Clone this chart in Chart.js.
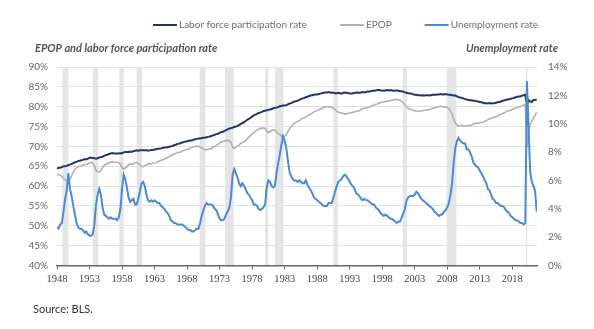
<!DOCTYPE html>
<html>
<head>
<meta charset="utf-8">
<script src="https://cdn.jsdelivr.net/npm/chart.js@4"></script>
<style>
  html, body { margin: 0; padding: 0; background: #fff; }
  #wrap { width: 594px; height: 329px; }
</style>
</head>
<body>
<div id="wrap"><canvas id="chartLabor"></canvas></div>
<script>
// quarterly readings, first value = 1948 Q1, one row per year
const startYear = 1948;

const lfpr = [
  64.4, 64.6, 64.6, 64.8,  65.0, 65.0, 65.1, 65.3,  65.4, 65.6, 65.8, 66.0,  66.1, 66.3, 66.4, 66.5,
  66.6, 66.8, 66.7, 66.9,  67.1, 67.2, 67.1, 67.0,  66.9, 67.0, 67.2, 67.3,  67.4, 67.6, 67.8, 67.9,
  68.1, 68.2, 68.3, 68.2,  68.2, 68.2, 68.2, 68.3,  68.3, 68.5, 68.6, 68.6,  68.6, 68.7, 68.6, 68.8,
  68.9, 69.0, 68.9, 69.0,  69.0, 69.1, 69.0, 69.0,  68.9, 69.0, 69.1, 69.1,  69.2, 69.3, 69.4, 69.4,
  69.5, 69.6, 69.7, 69.7,  69.8, 69.9, 70.0, 70.1,  70.3, 70.4, 70.6, 70.7,  70.8, 71.0, 71.1, 71.2,
  71.3, 71.4, 71.5, 71.5,  71.7, 71.8, 71.9, 72.0,  72.0, 72.1, 72.2, 72.2,  72.3, 72.4, 72.5, 72.6,
  72.8, 72.9, 73.1, 73.2,  73.4, 73.6, 73.7, 73.9,  74.1, 74.3, 74.5, 74.6,  74.7, 74.9, 75.0, 75.1,
  75.4, 75.6, 75.9, 76.1,  76.4, 76.7, 76.9, 77.2,  77.5, 77.8, 78.0, 78.2,  78.4, 78.5, 78.7, 78.9,
  79.0, 79.1, 79.2, 79.3,  79.4, 79.6, 79.7, 79.8,  79.9, 80.1, 80.2, 80.3,  80.3, 80.4, 80.6, 80.8,
  80.9, 81.1, 81.3, 81.4,  81.5, 81.7, 81.9, 82.1,  82.2, 82.4, 82.5, 82.7,  82.8, 82.9, 83.0, 83.1,
  83.1, 83.2, 83.3, 83.4,  83.5, 83.6, 83.6, 83.7,  83.6, 83.5, 83.5, 83.4,  83.4, 83.5, 83.4, 83.3,
  83.5, 83.6, 83.5, 83.4,  83.4, 83.3, 83.4, 83.5,  83.5, 83.6, 83.5, 83.6,  83.7, 83.6, 83.7, 83.8,
  83.8, 83.9, 84.0, 84.0,  84.1, 84.2, 84.2, 84.1,  84.1, 84.0, 84.1, 84.2,  84.1, 84.2, 84.1, 84.0,
  84.1, 84.1, 84.0, 83.9,  83.9, 83.8, 83.6, 83.5,  83.4, 83.3, 83.3, 83.1,  83.0, 83.0, 82.9, 82.9,
  82.8, 82.9, 82.8, 82.9,  82.9, 82.8, 82.9, 83.0,  83.0, 83.0, 83.1, 83.1,  83.2, 83.1, 83.1, 83.2,
  83.1, 83.0, 83.0, 82.9,  82.8, 82.8, 82.6, 82.4,  82.3, 82.2, 82.1, 81.9,  81.8, 81.7, 81.6, 81.6,
  81.5, 81.5, 81.4, 81.3,  81.2, 81.1, 81.0, 80.9,  80.9, 80.8, 80.9, 80.8,  80.9, 80.9, 81.0, 81.1,
  81.2, 81.3, 81.5, 81.6,  81.7, 81.8, 81.9, 82.0,  82.1, 82.2, 82.4, 82.5,  82.6, 82.6, 82.8, 82.9,
  83.0, 80.6, 81.7, 81.3,  81.2, 81.7, 81.7, 81.8
];

const epop = [
  62.8, 62.9, 62.7, 62.5,  62.0, 61.6, 61.3, 61.4,  61.8, 62.6, 63.5, 64.1,  64.6, 64.9, 65.0, 65.1,
  65.3, 65.5, 65.4, 65.6,  65.9, 66.0, 65.8, 65.1,  64.0, 63.6, 63.5, 63.9,  64.7, 65.2, 65.5, 65.7,
  65.9, 66.0, 66.1, 66.0,  66.0, 66.0, 65.9, 65.5,  64.7, 64.3, 64.5, 64.9,  65.4, 65.6, 65.5, 65.6,
  65.9, 66.0, 65.7, 65.4,  65.0, 64.9, 65.1, 65.4,  65.6, 65.7, 65.6, 65.8,  65.8, 65.9, 66.1, 66.3,
  66.5, 66.6, 66.8, 67.0,  67.2, 67.4, 67.7, 67.9,  68.1, 68.2, 68.4, 68.5,  68.6, 68.8, 69.0, 69.1,
  69.3, 69.4, 69.6, 69.7,  69.9, 70.0, 70.0, 70.1,  69.8, 69.6, 69.4, 69.2,  69.2, 69.3, 69.4, 69.5,
  69.7, 70.0, 70.2, 70.5,  70.8, 71.1, 71.2, 71.4,  71.4, 71.5, 71.4, 71.0,  69.8, 69.5, 69.8, 70.0,
  70.4, 70.8, 70.9, 71.2,  71.5, 72.0, 72.3, 72.7,  73.1, 73.5, 73.8, 74.1,  74.3, 74.5, 74.6, 74.6,
  74.5, 73.8, 73.5, 73.7,  74.0, 74.2, 74.1, 73.6,  73.2, 73.0, 72.6, 72.3,  72.5, 73.0, 73.7, 74.4,
  74.9, 75.4, 75.8, 76.1,  76.3, 76.5, 76.8, 77.0,  77.2, 77.4, 77.7, 77.9,  78.1, 78.4, 78.7, 78.9,
  79.0, 79.2, 79.4, 79.6,  79.8, 80.0, 80.0, 79.9,  80.0, 79.9, 79.6, 79.3,  78.9, 78.6, 78.5, 78.4,
  78.3, 78.2, 78.2, 78.3,  78.4, 78.5, 78.6, 78.7,  78.8, 78.9, 79.0, 79.3,  79.5, 79.6, 79.7, 79.8,
  79.9, 80.1, 80.3, 80.4,  80.6, 80.7, 80.9, 81.0,  81.1, 81.2, 81.3, 81.4,  81.5, 81.5, 81.6, 81.7,
  81.8, 81.9, 81.7, 81.6,  81.3, 80.9, 80.5, 80.0,  79.6, 79.4, 79.3, 79.1,  79.0, 78.9, 78.8, 78.9,
  78.9, 79.0, 79.1, 79.1,  79.2, 79.3, 79.4, 79.6,  79.7, 79.8, 79.9, 80.0,  80.1, 80.0, 79.9, 79.9,
  79.8, 79.5, 78.9, 78.2,  76.8, 75.9, 75.4, 75.1,  75.2, 75.3, 75.2, 75.1,  75.2, 75.3, 75.2, 75.4,
  75.6, 75.8, 75.8, 75.9,  75.9, 76.0, 76.1, 76.3,  76.5, 76.7, 76.9, 77.1,  77.3, 77.4, 77.5, 77.6,
  78.0, 78.1, 78.3, 78.4,  78.7, 78.9, 79.0, 79.1,  79.3, 79.5, 79.6, 79.8,  79.9, 80.0, 80.2, 80.4,
  80.5, 69.7, 73.5, 75.6,  76.3, 77.1, 77.8, 78.6
];

const unemployment = [
  2.7, 2.6, 2.9, 3.0,  3.8, 4.7, 5.3, 6.5,  5.4, 4.9, 4.2, 3.6,  3.0, 2.7, 2.6, 2.6,
  2.5, 2.3, 2.4, 2.2,  2.1, 2.1, 2.2, 2.9,  4.3, 5.0, 5.4, 5.0,  4.1, 3.6, 3.5, 3.4,
  3.3, 3.4, 3.3, 3.3,  3.3, 3.2, 3.4, 4.0,  5.4, 6.4, 6.1, 5.5,  4.8, 4.5, 4.6, 4.7,
  4.3, 4.3, 4.7, 5.2,  5.8, 5.9, 5.6, 5.0,  4.6, 4.5, 4.6, 4.5,  4.6, 4.5, 4.4, 4.4,
  4.2, 4.1, 4.0, 3.8,  3.7, 3.5, 3.2, 3.1,  3.0, 3.0, 2.9, 2.9,  2.9, 2.9, 2.8, 2.7,
  2.6, 2.5, 2.5, 2.4,  2.4, 2.5, 2.6, 2.6,  3.0, 3.5, 3.9, 4.2,  4.4, 4.3, 4.3, 4.3,
  4.2, 4.0, 3.9, 3.6,  3.3, 3.2, 3.2, 3.3,  3.6, 3.8, 4.1, 4.8,  6.4, 6.8, 6.5, 6.2,
  5.8, 5.6, 5.8, 5.6,  5.4, 5.1, 5.0, 4.8,  4.6, 4.3, 4.3, 4.2,  4.0, 3.9, 4.0, 4.1,
  4.3, 5.5, 6.0, 5.9,  5.6, 5.5, 5.6, 6.5,  7.2, 7.8, 8.5, 9.1,  8.8, 8.3, 7.4, 6.6,
  6.3, 6.1, 6.0, 6.0,  5.9, 6.0, 5.9, 5.8,  5.8, 6.0, 5.7, 5.5,  5.3, 5.1, 4.8, 4.7,
  4.6, 4.5, 4.4, 4.3,  4.2, 4.2, 4.2, 4.4,  4.4, 4.4, 4.8, 5.2,  5.6, 5.9, 6.0, 6.1,
  6.3, 6.4, 6.3, 6.1,  5.9, 5.7, 5.6, 5.4,  5.1, 5.0, 4.9, 4.7,  4.6, 4.7, 4.6, 4.6,
  4.5, 4.4, 4.3, 4.3,  4.1, 4.0, 3.9, 3.7,  3.6, 3.5, 3.6, 3.5,  3.4, 3.3, 3.3, 3.2,
  3.1, 3.0, 3.1, 3.1,  3.4, 3.7, 4.0, 4.6,  4.8, 4.9, 4.9, 4.9,  5.0, 5.2, 5.1, 4.9,
  4.7, 4.6, 4.5, 4.4,  4.3, 4.2, 4.1, 4.0,  3.8, 3.7, 3.6, 3.5,  3.6, 3.6, 3.8, 3.9,
  4.1, 4.4, 5.0, 5.8,  7.3, 8.3, 8.8, 9.0,  8.8, 8.7, 8.6, 8.6,  8.2, 8.2, 8.0, 7.7,
  7.3, 7.1, 7.0, 6.9,  6.7, 6.5, 6.3, 6.0,  5.8, 5.4, 5.3, 5.0,  4.7, 4.6, 4.4, 4.4,
  4.3, 4.2, 4.2, 4.1,  3.9, 3.8, 3.7, 3.5,  3.4, 3.3, 3.2, 3.2,  3.1, 3.0, 3.0, 2.9,
  3.0, 13.0, 9.8, 6.6,  5.9, 5.6, 5.3, 3.8
];

const xTicks = [1948, 1953, 1958, 1963, 1968, 1973, 1978, 1983, 1988, 1993, 1998, 2003, 2008, 2013, 2018];

// recessions (start, end) in decimal years
const recessionStart = [1948.83, 1953.5, 1957.58, 1960.25, 1969.92, 1973.83, 1980.0, 1981.5, 1990.5, 2001.17, 2007.92, 2020.08];
const recessionEnd   = [1949.75, 1954.33, 1958.25, 1961.08, 1970.83, 1975.17, 1980.5, 1982.83, 1991.17, 2001.83, 2009.42, 2020.25];

function toPoints(arr) {
    return arr.map((v, i) => ({ x: startYear + i / 4, y: v }));
}

const extras = {
    id: 'extras',
    beforeDraw(chart) {
        const ctx = chart.ctx;
        const x = chart.scales.x;
        const area = chart.chartArea;
        ctx.save();
        ctx.fillStyle = '#fff';
        ctx.fillRect(0, 0, chart.width, chart.height);
        ctx.fillStyle = '#e5e5e5';
        for (let i = 0; i < recessionStart.length; i++) {
            const x0 = x.getPixelForValue(recessionStart[i]);
            const x1 = x.getPixelForValue(recessionEnd[i]);
            ctx.fillRect(x0, area.top, Math.max(x1 - x0, 1.5), area.bottom - area.top);
        }
        ctx.restore();
    },
    afterDraw(chart) {
        const ctx = chart.ctx;
        ctx.save();
        // legend
        ctx.font = '10px Lato';
        ctx.textBaseline = 'middle';
        let lx = 153;
        const ly = 25;
        chart.data.datasets.forEach(ds => {
            ctx.strokeStyle = ds.borderColor;
            ctx.lineWidth = 2;
            ctx.beginPath();
            ctx.moveTo(lx, ly);
            ctx.lineTo(lx + 24, ly);
            ctx.stroke();
            ctx.fillStyle = '#6e6e6e';
            ctx.textAlign = 'left';
            ctx.fillText(ds.label, lx + 26, ly);
            lx += 26 + ctx.measureText(ds.label).width + 33;
        });
        // axis titles
        ctx.font = 'italic bold 11px Lato';
        ctx.fillStyle = '#555';
        ctx.textAlign = 'left';
        ctx.fillText('EPOP and labor force participation rate', 35, 48);
        ctx.textAlign = 'right';
        ctx.fillText('Unemployment rate', 558, 48);
        // source
        ctx.font = '11px Lato';
        ctx.fillStyle = '#333';
        ctx.textAlign = 'left';
        ctx.fillText('Source: BLS.', 33, 309);
        ctx.restore();
    }
};

window.onload = function () {
    const ctxLabor = document.getElementById('chartLabor');
    new Chart(ctxLabor.getContext('2d'), {
        type: 'line',
        data: {
            datasets: [
                {
                    label: 'Labor force participation rate',
                    data: toPoints(lfpr),
                    borderColor: '#1f3864',
                    borderWidth: 2,
                    yAxisID: 'y',
                    order: 1
                },
                {
                    label: 'EPOP',
                    data: toPoints(epop),
                    borderColor: '#b3b0b0',
                    borderWidth: 1.6,
                    yAxisID: 'y',
                    order: 2
                },
                {
                    label: 'Unemployment rate',
                    data: toPoints(unemployment),
                    borderColor: '#4a8ad6',
                    borderWidth: 2,
                    yAxisID: 'y2',
                    order: 0
                }
            ]
        },
        options: {
            responsive: true,
            maintainAspectRatio: false,
            animation: false,
            elements: { point: { radius: 0 }, line: { tension: 0 } },
            layout: { padding: { top: 67, left: 0, right: 0, bottom: 0 } },
            plugins: {
                legend: { display: false },
                tooltip: { enabled: false }
            },
            scales: {
                x: {
                    type: 'linear',
                    min: 1948,
                    max: 2021.8,
                    afterBuildTicks: s => { s.ticks = xTicks.map(v => ({ value: v })); },
                    afterFit: s => { s.height = 63.5; },
                    ticks: {
                        callback: v => String(v),
                        font: { family: 'Liberation Serif', size: 10.5 },
                        color: '#444',
                        maxRotation: 0,
                        autoSkip: false,
                        padding: 3
                    },
                    grid: { drawOnChartArea: false, tickLength: 4, color: '#666' },
                    border: { color: '#666', width: 1.5 }
                },
                y: {
                    position: 'left',
                    min: 40,
                    max: 90,
                    afterFit: s => { s.width = 57; },
                    ticks: {
                        stepSize: 5,
                        callback: v => v + '%',
                        font: { family: 'Lato', size: 10 },
                        color: '#666',
                        padding: 9
                    },
                    grid: { color: '#e2e2e2', drawTicks: false },
                    border: { display: false }
                },
                y2: {
                    position: 'right',
                    min: 0,
                    max: 14,
                    afterFit: s => { s.width = 57; },
                    ticks: {
                        stepSize: 2,
                        callback: v => v + '%',
                        font: { family: 'Lato', size: 10 },
                        color: '#666',
                        padding: 11
                    },
                    grid: { drawOnChartArea: false, drawTicks: false },
                    border: { display: false }
                }
            }
        },
        plugins: [extras]
    });
};
</script>
</body>
</html>
